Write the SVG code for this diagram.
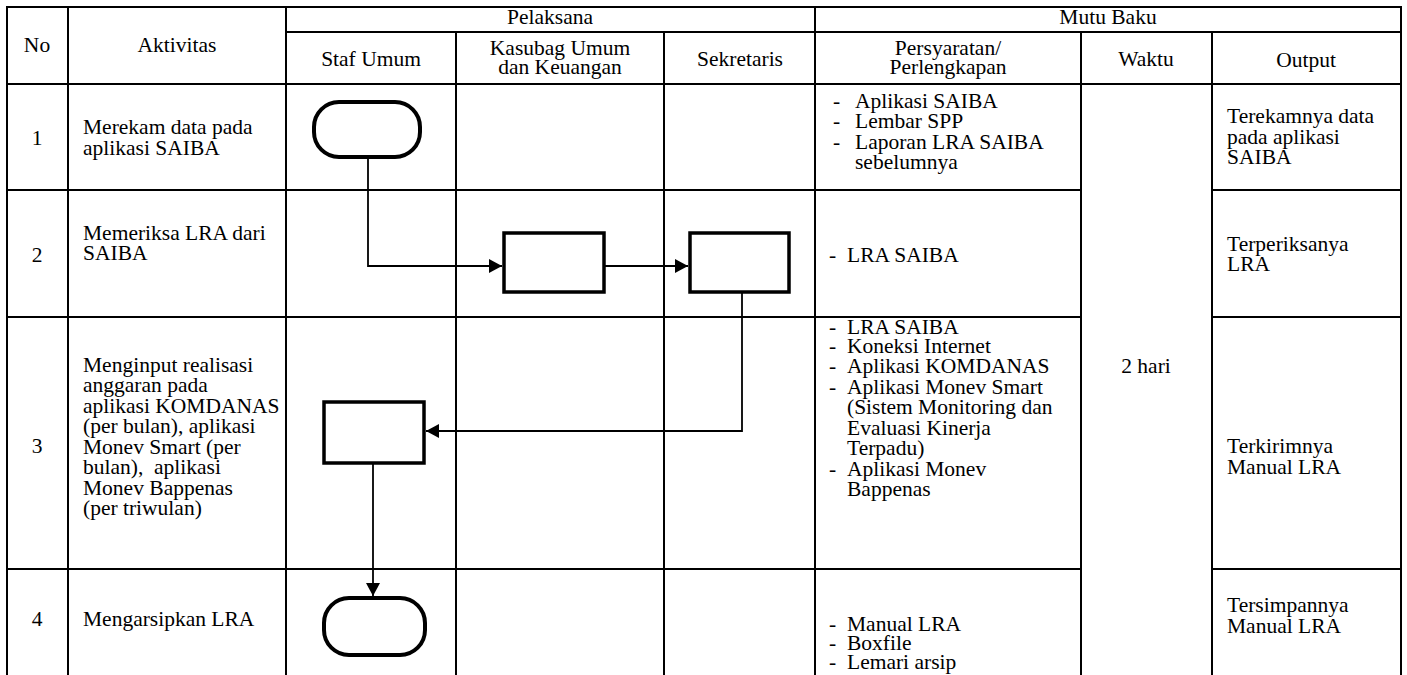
<svg xmlns="http://www.w3.org/2000/svg" width="1407" height="675" viewBox="0 0 1407 675">
<style>
text{font-family:"Liberation Serif","Times New Roman",serif;font-size:21.5px;fill:#000}
.c{text-anchor:middle}
.grid line{stroke:#000;stroke-width:2}
.node{fill:#fff;stroke:#000}
.term{stroke-width:4}
.proc{stroke-width:3.5}
.conn path{fill:none;stroke:#000;stroke-width:1.8}
</style>
<defs>
<marker id="ah" markerUnits="userSpaceOnUse" markerWidth="14" markerHeight="14" refX="13" refY="7" orient="auto">
<path d="M0,0 L13,7 L0,14 z" fill="#000"/>
</marker>
</defs>
<rect width="1407" height="675" fill="#fff"/>
<g id="table" class="grid">
<line x1="6" y1="7" x2="1402" y2="7"/>
<line x1="286" y1="32" x2="1402" y2="32"/>
<line x1="6" y1="84" x2="1402" y2="84"/>
<line x1="6" y1="190" x2="1081" y2="190"/>
<line x1="1212" y1="190" x2="1402" y2="190"/>
<line x1="6" y1="317" x2="1081" y2="317"/>
<line x1="1212" y1="317" x2="1402" y2="317"/>
<line x1="6" y1="569" x2="1081" y2="569"/>
<line x1="1212" y1="569" x2="1402" y2="569"/>
<line x1="7" y1="7" x2="7" y2="675"/>
<line x1="68" y1="7" x2="68" y2="675"/>
<line x1="286" y1="7" x2="286" y2="675"/>
<line x1="456" y1="32" x2="456" y2="675"/>
<line x1="664" y1="32" x2="664" y2="675"/>
<line x1="815" y1="7" x2="815" y2="675"/>
<line x1="1081" y1="32" x2="1081" y2="675"/>
<line x1="1212" y1="32" x2="1212" y2="675"/>
<line x1="1401" y1="7" x2="1401" y2="675"/>
</g>
<g id="header">
<text class="c" x="550" y="24">Pelaksana</text>
<text class="c" x="1108" y="24">Mutu Baku</text>
<text class="c" x="37" y="52">No</text>
<text class="c" x="177" y="52">Aktivitas</text>
<text class="c" x="371" y="66">Staf Umum</text>
<text class="c" x="560" y="55">Kasubag Umum</text>
<text class="c" x="560" y="74">dan Keuangan</text>
<text class="c" x="740" y="66">Sekretaris</text>
<text class="c" x="948" y="55">Persyaratan/</text>
<text class="c" x="948" y="74">Perlengkapan</text>
<text class="c" x="1146" y="66">Waktu</text>
<text class="c" x="1306" y="67">Output</text>
</g>
<g id="row1">
<text class="c" x="37" y="145">1</text>
<text x="83" y="134">Merekam data pada</text>
<text x="83" y="155">aplikasi SAIBA</text>
<text x="833" y="108">-</text><text x="855" y="108">Aplikasi SAIBA</text>
<text x="833" y="128">-</text><text x="855" y="128">Lembar SPP</text>
<text x="833" y="149">-</text><text x="855" y="149">Laporan LRA SAIBA</text>
<text x="855" y="169">sebelumnya</text>
<text x="1227" y="123">Terekamnya data</text>
<text x="1227" y="144">pada aplikasi</text>
<text x="1227" y="164">SAIBA</text>
</g>
<g id="row2">
<text class="c" x="37" y="262">2</text>
<text x="83" y="240">Memeriksa LRA dari</text>
<text x="83" y="260">SAIBA</text>
<text x="829" y="262">-</text><text x="847" y="262">LRA SAIBA</text>
<text x="1227" y="251">Terperiksanya</text>
<text x="1227" y="271">LRA</text>
</g>
<g id="row3">
<text class="c" x="37" y="453">3</text>
<text x="83" y="372">Menginput realisasi</text>
<text x="83" y="392">anggaran pada</text>
<text x="83" y="413">aplikasi KOMDANAS</text>
<text x="83" y="433">(per bulan), aplikasi</text>
<text x="83" y="454">Monev Smart (per</text>
<text x="83" y="474" xml:space="preserve">bulan),  aplikasi</text>
<text x="83" y="495">Monev Bappenas</text>
<text x="83" y="515">(per triwulan)</text>
<text x="829" y="334">-</text><text x="847" y="334">LRA SAIBA</text>
<text x="829" y="353">-</text><text x="847" y="353">Koneksi Internet</text>
<text x="829" y="373">-</text><text x="847" y="373">Aplikasi KOMDANAS</text>
<text x="829" y="394">-</text><text x="847" y="394">Aplikasi Monev Smart</text>
<text x="847" y="414">(Sistem Monitoring dan</text>
<text x="847" y="435">Evaluasi Kinerja</text>
<text x="847" y="455">Terpadu)</text>
<text x="829" y="476">-</text><text x="847" y="476">Aplikasi Monev</text>
<text x="847" y="496">Bappenas</text>
<text class="c" x="1146" y="373">2 hari</text>
<text x="1227" y="453">Terkirimnya</text>
<text x="1227" y="474">Manual LRA</text>
</g>
<g id="row4">
<text class="c" x="37" y="626">4</text>
<text x="83" y="626">Mengarsipkan LRA</text>
<text x="829" y="631">-</text><text x="847" y="631">Manual LRA</text>
<text x="829" y="650">-</text><text x="847" y="650">Boxfile</text>
<text x="829" y="669">-</text><text x="847" y="669">Lemari arsip</text>
<text x="1227" y="612">Tersimpannya</text>
<text x="1227" y="633">Manual LRA</text>
</g>
<g id="n1"><rect class="node term" x="314" y="102" width="106" height="55" rx="25"/></g>
<g id="n2"><rect class="node proc" x="504" y="233" width="100" height="59"/></g>
<g id="n3"><rect class="node proc" x="690" y="233" width="99" height="59"/></g>
<g id="n4"><rect class="node proc" x="324" y="402" width="100" height="61"/></g>
<g id="n5"><rect class="node term" x="324" y="598" width="101" height="57" rx="25"/></g>
<g id="connectors" class="conn">
<path d="M368 157 V266 H502" marker-end="url(#ah)"/>
<path d="M604 266 H688" marker-end="url(#ah)"/>
<path d="M742 292 V431 H426" marker-end="url(#ah)"/>
<path d="M373 463 V596" marker-end="url(#ah)"/>
</g>
</svg>
